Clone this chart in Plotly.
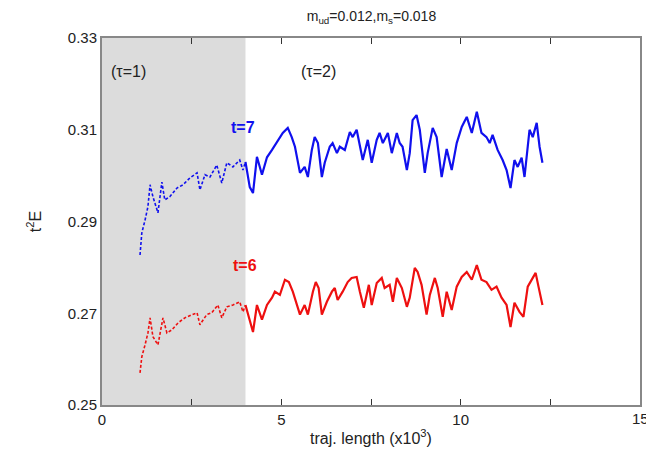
import plotly.graph_objects as go

# ---- data ----
blue_dash_x = [1.06, 1.11, 1.20, 1.28, 1.34, 1.42, 1.56, 1.67, 1.75, 1.89, 2.09, 2.26, 2.45, 2.65, 2.73,
               2.87, 3.01, 3.20, 3.34, 3.48, 3.65, 3.84, 3.93, 4.00]
blue_dash_y = [0.2827, 0.2875, 0.2903, 0.2932, 0.2980, 0.2954, 0.2919, 0.2986, 0.2947, 0.2954, 0.2973, 0.2980,
               0.2995, 0.3006, 0.2969, 0.3002, 0.2997, 0.3023, 0.2984, 0.3028, 0.3019, 0.3034, 0.3012, 0.3030]

blue_x = [4.00, 4.04, 4.12, 4.21, 4.32, 4.46, 4.60, 4.74, 4.87, 5.04, 5.18, 5.29, 5.38, 5.52, 5.65, 5.74,
          5.85, 5.93, 6.02, 6.13, 6.21, 6.35, 6.43, 6.55, 6.63, 6.77, 6.91, 6.99, 7.10, 7.19, 7.27, 7.41,
          7.52, 7.66, 7.74, 7.83, 7.97, 8.08, 8.22, 8.30, 8.38, 8.50, 8.58, 8.66, 8.77, 8.86, 9.00, 9.08,
          9.22, 9.33, 9.47, 9.61, 9.75, 9.89, 10.03, 10.17, 10.31, 10.45, 10.58, 10.72, 10.81, 10.89,
          11.03, 11.17, 11.28, 11.39, 11.50, 11.59, 11.70, 11.78, 11.92, 12.01, 12.12, 12.20, 12.28]
blue_y = [0.3030, 0.3010, 0.2975, 0.2962, 0.3041, 0.3002, 0.3040, 0.3056, 0.3071, 0.3093, 0.3104, 0.3084,
          0.3063, 0.3006, 0.3019, 0.2997, 0.3056, 0.3084, 0.3071, 0.2997, 0.3028, 0.3063, 0.3071, 0.3049,
          0.3063, 0.3056, 0.3095, 0.3084, 0.3100, 0.3063, 0.3034, 0.3078, 0.3028, 0.3078, 0.3093, 0.3071,
          0.3093, 0.3049, 0.3093, 0.3071, 0.3063, 0.3012, 0.3049, 0.3121, 0.3132, 0.3100, 0.3006, 0.3049,
          0.3104, 0.3084, 0.2997, 0.3058, 0.3012, 0.3071, 0.3106, 0.3128, 0.3093, 0.3139, 0.3093, 0.3084,
          0.3071, 0.3089, 0.3056, 0.3034, 0.3012, 0.2973, 0.3034, 0.3019, 0.3039, 0.2997, 0.3100, 0.3084,
          0.3115, 0.3063, 0.3028]

red_dash_x = [1.06, 1.11, 1.20, 1.28, 1.34, 1.42, 1.56, 1.70, 1.81, 1.95, 2.12, 2.31, 2.51, 2.65, 2.73,
              2.92, 3.06, 3.23, 3.34, 3.48, 3.65, 3.84, 3.93, 4.00]
red_dash_y = [0.2570, 0.2605, 0.2631, 0.2657, 0.2690, 0.2649, 0.2631, 0.2690, 0.2657, 0.2664, 0.2679, 0.2690,
              0.2697, 0.2701, 0.2675, 0.2697, 0.2701, 0.2718, 0.2690, 0.2714, 0.2718, 0.2725, 0.2703, 0.2718]

red_x = [4.00, 4.12, 4.21, 4.32, 4.46, 4.60, 4.74, 4.82, 4.96, 5.10, 5.21, 5.32, 5.52, 5.65, 5.74, 5.88,
         5.96, 6.04, 6.13, 6.27, 6.41, 6.49, 6.57, 6.71, 6.85, 6.96, 7.10, 7.19, 7.30, 7.44, 7.52, 7.66,
         7.80, 7.88, 8.02, 8.11, 8.22, 8.36, 8.50, 8.58, 8.72, 8.80, 8.91, 9.05, 9.14, 9.28, 9.36, 9.50,
         9.61, 9.75, 9.89, 10.03, 10.17, 10.31, 10.45, 10.58, 10.72, 10.86, 11.00, 11.14, 11.28, 11.39,
         11.50, 11.64, 11.75, 11.87, 11.98, 12.09, 12.17, 12.28]
red_y = [0.2718, 0.2686, 0.2659, 0.2718, 0.2686, 0.2718, 0.2734, 0.2747, 0.2740, 0.2773, 0.2768, 0.2747,
         0.2697, 0.2718, 0.2697, 0.2747, 0.2768, 0.2755, 0.2697, 0.2725, 0.2747, 0.2755, 0.2729, 0.2747,
         0.2768, 0.2777, 0.2779, 0.2747, 0.2712, 0.2762, 0.2718, 0.2766, 0.2777, 0.2755, 0.2762, 0.2725,
         0.2777, 0.2755, 0.2714, 0.2734, 0.2799, 0.2790, 0.2762, 0.2697, 0.2740, 0.2777, 0.2755, 0.2692,
         0.2747, 0.2707, 0.2758, 0.2779, 0.2790, 0.2773, 0.2805, 0.2773, 0.2768, 0.2751, 0.2758, 0.2734,
         0.2718, 0.2670, 0.2723, 0.2703, 0.2692, 0.2758, 0.2773, 0.2788, 0.2758, 0.2718]

x_tickvals = [0, 2.5, 5, 7.5, 10, 12.5, 15]
x_ticktext = ["0", "", "5", "", "10", "", "15"]
y_tickvals = [0.25, 0.27, 0.29, 0.31, 0.33]
y_ticktext = ["0.25", "0.27", "0.29", "0.31", "0.33"]

BLUE = "#1010ee"
RED = "#ee1010"
FONT = "Liberation Sans, Arial, sans-serif"

fig = go.Figure()
fig.add_trace(go.Scatter(x=blue_dash_x, y=blue_dash_y, mode="lines",
                         line=dict(color=BLUE, width=1.6, dash="3px,2px")))
fig.add_trace(go.Scatter(x=blue_x, y=blue_y, mode="lines", line=dict(color=BLUE, width=2.2)))
fig.add_trace(go.Scatter(x=red_dash_x, y=red_dash_y, mode="lines",
                         line=dict(color=RED, width=1.6, dash="3px,2px")))
fig.add_trace(go.Scatter(x=red_x, y=red_y, mode="lines", line=dict(color=RED, width=2.2)))

fig.add_shape(type="rect", xref="x", yref="y", x0=0, x1=4, y0=0.25, y1=0.33,
              fillcolor="#dcdcdc", line=dict(width=0), layer="below")

fig.add_annotation(x=0.73, y=0.3226, text="(τ=1)", showarrow=False,
                   font=dict(size=16, color="#222", family=FONT))
fig.add_annotation(x=6.04, y=0.3226, text="(τ=2)", showarrow=False,
                   font=dict(size=16, color="#222", family=FONT))
fig.add_annotation(x=3.93, y=0.3104, text="<b>t=7</b>", showarrow=False,
                   font=dict(size=16, color=BLUE, family=FONT))
fig.add_annotation(x=3.98, y=0.2805, text="<b>t=6</b>", showarrow=False,
                   font=dict(size=16, color=RED, family=FONT))
# last x tick label, partly cut by the page edge as in the reference
fig.add_annotation(x=x_tickvals[-1], xref="x", y=0, yref="paper", yanchor="top", yshift=-3,
                   text=x_ticktext[-1], showarrow=False,
                   font=dict(size=15, color="#222", family=FONT))

fig.update_layout(
    width=646, height=458,
    margin=dict(l=102, r=6, t=38, b=53, autoexpand=False),
    paper_bgcolor="white", plot_bgcolor="white",
    showlegend=False,
    font=dict(family=FONT, size=15, color="#222"),
    title=dict(text="m<sub>ud</sub>=0.012,m<sub>s</sub>=0.018", x=0.575, xanchor="center",
               y=0.965, yanchor="middle", font=dict(size=14, color="#222")),
)
fig.update_xaxes(range=[0, 15], tickvals=x_tickvals, ticktext=x_ticktext,
                 ticks="inside", ticklen=6, tickcolor="#333", mirror="ticks",
                 showline=True, linecolor="#888", linewidth=2, showgrid=False, zeroline=False,
                 tickfont=dict(size=15), automargin=False,
                 title=dict(text="traj. length (x10<sup>3</sup>)", standoff=6, font=dict(size=16)))
fig.update_yaxes(range=[0.25, 0.33], tickvals=y_tickvals, ticktext=y_ticktext,
                 ticks="", mirror=True, automargin=False,
                 showline=True, linecolor="#888", linewidth=2, showgrid=False, zeroline=False,
                 tickfont=dict(size=15),
                 title=dict(text="t<sup>2</sup>E", standoff=22, font=dict(size=16)))

fig.write_html("out.html")
